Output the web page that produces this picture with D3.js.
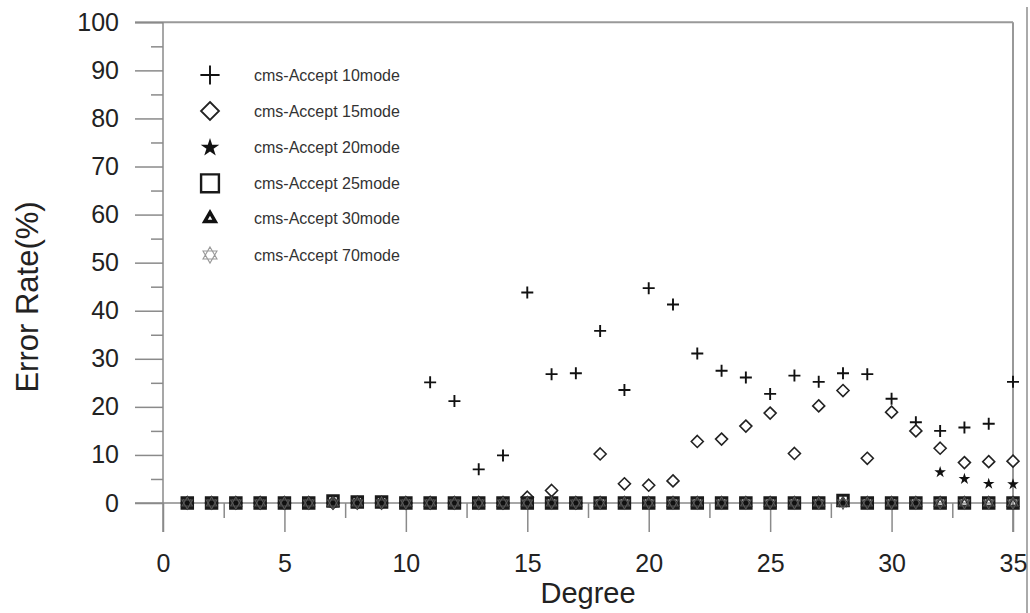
<!DOCTYPE html>
<html>
<head>
<meta charset="utf-8">
<script src="https://cdn.jsdelivr.net/npm/d3@7/dist/d3.min.js"></script>
<style>
  html, body { margin: 0; padding: 0; background: #fff; }
  svg { display: block; font-family: "Liberation Sans", Arial, sans-serif; }
</style>
</head>
<body>
<svg id="chart" width="1030" height="613"></svg>
<script>
// ---- data ----
const degrees = [1,2,3,4,5,6,7,8,9,10,11,12,13,14,15,16,17,18,19,20,21,22,23,24,25,26,27,28,29,30,31,32,33,34,35];
const mode10 = [0,0,0,0,0,0,0,0,0,0,25.1,21.2,7.0,9.9,43.8,26.8,27.0,35.8,23.5,44.7,41.3,31.1,27.5,26.1,22.7,26.5,25.2,27.0,26.8,21.7,16.8,15.0,15.7,16.5,25.2];
const mode15 = [0,0,0,0,0,0,0,0,0,0,0,0,0,0,1.2,2.6,0,10.2,4.0,3.7,4.6,12.8,13.3,16.0,18.7,10.3,20.2,23.4,9.3,18.9,15.0,11.4,8.4,8.6,8.7];
const mode20 = [0,0,0,0,0,0,0,0,0,0,0,0,0,0,0,0,0,0,0,0,0,0,0,0,0,0,0,0,0,0,0,6.4,5.0,4.0,3.9];
const mode25 = [0,0,0,0,0,0,0.4,0.2,0.2,0,0,0,0,0,0,0,0,0,0,0,0,0,0,0,0,0,0,0.5,0,0,0,0,0,0,0];
const mode30 = [0,0,0,0,0,0,0,0,0,0,0,0,0,0,0,0,0,0,0,0,0,0,0,0,0,0,0,0,0,0,0,0,0,0,0];
const mode70 = [0,0,0,0,0,0,0,0,0,0,0,0,0,0,0,0,0,0,0,0,0,0,0,0,0,0,0,0,0,0,0,0,0,0,0];
const seriesNames = ["cms-Accept 10mode","cms-Accept 15mode","cms-Accept 20mode","cms-Accept 25mode","cms-Accept 30mode","cms-Accept 70mode"];
const xTicks = [0,5,10,15,20,25,30,35];
const xMinorTicks = [2.5,7.5,12.5,17.5,22.5,27.5,32.5];
const yTicks = [0,10,20,30,40,50,60,70,80,90,100];
const yMinorTicks = [5,15,25,35,45,55,65,75,85,95];

// ---- layout ----
const svg = d3.select("#chart");
const x = d3.scaleLinear().domain([0, 35]).range([163, 1013]);
const y = d3.scaleLinear().domain([0, 100]).range([503, 22.3]);
const axisColor = "#8a8a8a";

// symbol path generators
function plusPath(r){ return `M${-r},0H${r}M0,${-r}V${r}`; }
function diamondPath(r){ return `M0,${-r}L${r},0L0,${r}L${-r},0Z`; }
function hexagramPath(r){
  const p = [];
  for (let k=0;k<2;k++){
    const pts = d3.range(3).map(i => {
      const a = (k*60 - 90 + i*120) * Math.PI/180;
      return [r*Math.cos(a), r*Math.sin(a)];
    });
    p.push("M" + pts.map(q => q[0].toFixed(2)+","+q[1].toFixed(2)).join("L") + "Z");
  }
  return p.join("");
}
const styles = [
  {d: s => plusPath(6*s), fill: "none", stroke: "#111", sw: 1.9},
  {d: s => diamondPath(6*s), fill: "#fff", stroke: "#222", sw: 1.6},
  {d: s => d3.symbol(d3.symbolStar, 42*s*s)(), fill: "#111", stroke: "none", sw: 0},
  {d: s => d3.symbol(d3.symbolSquare, 110*s*s)(), fill: "none", stroke: "#1a1a1a", sw: 3},
  {d: s => d3.symbol(d3.symbolTriangle, 40*s*s)(), fill: "none", stroke: "#111", sw: 2.2},
  {d: s => hexagramPath(6*s), fill: "none", stroke: "#555", sw: 1.2}
];
const allSeries = [mode10, mode15, mode20, mode25, mode30, mode70];

// ---- frame ----
svg.append("line").attr("x1",135).attr("x2",1013).attr("y1",y(100)).attr("y2",y(100))
  .attr("stroke","#999").attr("stroke-width",2);
svg.append("line").attr("x1",1013).attr("x2",1013).attr("y1",y(100)).attr("y2",532)
  .attr("stroke","#999").attr("stroke-width",2);
svg.append("line").attr("x1",1027).attr("x2",1027).attr("y1",7).attr("y2",613)
  .attr("stroke","#aaa").attr("stroke-width",2);
svg.append("line").attr("x1",163).attr("x2",163).attr("y1",y(100)).attr("y2",532)
  .attr("stroke",axisColor).attr("stroke-width",1.5);
svg.append("line").attr("x1",135).attr("x2",1013).attr("y1",y(0)).attr("y2",y(0))
  .attr("stroke",axisColor).attr("stroke-width",1.5);

// ---- axes ----
const yAxis = svg.append("g").attr("transform","translate(163,0)")
  .call(d3.axisLeft(y).tickValues(yTicks).tickSize(28).tickPadding(16).tickFormat(d3.format("d")));
const yMinor = svg.append("g").attr("transform","translate(163,0)")
  .call(d3.axisLeft(y).tickValues(yMinorTicks).tickSize(12).tickFormat(""));
const xAxis = svg.append("g").attr("transform",`translate(0,${y(0)})`)
  .call(d3.axisBottom(x).tickValues(xTicks).tickSize(29).tickPadding(22).tickFormat(d3.format("d")));
const xMinor = svg.append("g").attr("transform",`translate(0,${y(0)})`)
  .call(d3.axisBottom(x).tickValues(xMinorTicks).tickSize(15).tickFormat(""));
[yAxis, yMinor, xAxis, xMinor].forEach(g => {
  g.select(".domain").remove();
  g.selectAll(".tick line").attr("stroke", axisColor).attr("stroke-width", 1.5);
  g.selectAll(".tick text").attr("font-size", 25).attr("fill", "#222")
    .attr("font-family", "'Liberation Sans', Arial, sans-serif");
});

// axis titles
svg.append("text").attr("x", 588).attr("y", 603).attr("text-anchor","middle")
  .attr("font-size", 29).attr("fill","#222").text("Degree");
svg.append("text").attr("transform","translate(38,297) rotate(-90)").attr("text-anchor","middle")
  .attr("font-size", 31).attr("fill","#222").text("Error Rate(%)");

// ---- data marks ----
allSeries.forEach((vals, si) => {
  const st = styles[si];
  svg.append("g").selectAll("path").data(vals).join("path")
    .attr("transform", (v,i) => `translate(${x(degrees[i])},${y(v)})`)
    .attr("d", st.d(1))
    .attr("fill", st.fill).attr("stroke", st.stroke).attr("stroke-width", st.sw);
});

// ---- legend ----
const legendY = [75, 111, 147.7, 183.3, 218.5, 255];
const leg = svg.append("g");
seriesNames.forEach((name, i) => {
  const st = styles[i];
  const scale = [1.6, 1.5, 1.6, 1.7, 1.1, 1.35][i];
  const sw = [1.9, 1.8, 0, 2.4, 3.4, 1.1][i];
  leg.append("path").attr("transform", `translate(210,${legendY[i]})`)
    .attr("d", st.d(scale)).attr("fill", i===4 ? "#fff" : st.fill)
    .attr("stroke", i===5 ? "#999" : st.stroke).attr("stroke-width", sw);
  leg.append("text").attr("x", 254).attr("y", legendY[i]).attr("dy", "0.35em")
    .attr("font-size", 16).attr("fill", "#333").text(name);
});
</script>
</body>
</html>
